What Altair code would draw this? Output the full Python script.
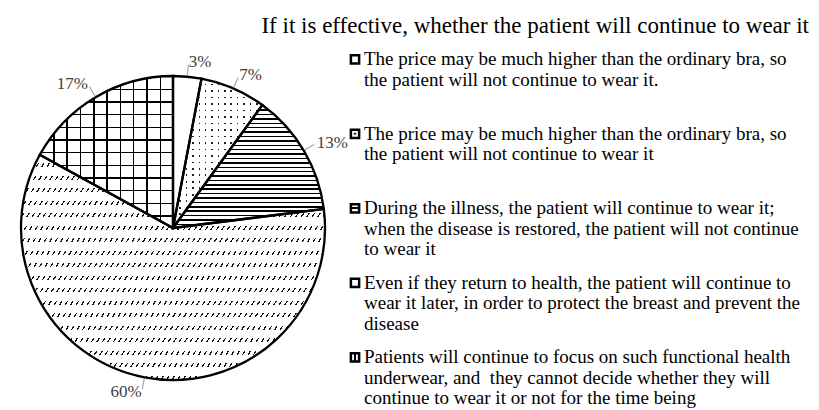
import math
import altair as alt
import pandas as pd

# ---------------- data ----------------
keys = ["a", "b", "c", "d", "e"]
values = [3, 7, 13, 60, 17]
legend_labels = [
    "The price may be much higher than the ordinary bra, so\nthe patient will not continue to wear it.",
    "The price may be much higher than the ordinary bra, so\nthe patient will not continue to wear it",
    "\u00a0During the illness, the patient will continue to wear it;\nwhen the disease is restored, the patient will not continue\nto wear it",
    "Even if they return to health, the patient will continue to\nwear it later, in order to protect the breast and prevent the\ndisease",
    "Patients will continue to focus on such functional health\nunderwear, and \u00a0they cannot decide whether they will\ncontinue to wear it or not for the time being",
]
title_text = "If it is effective, whether the patient will continue to wear it"

df = pd.DataFrame({"key": keys, "value": values, "legend": legend_labels,
                   "idx": list(range(len(keys)))})

# ---------------- styling ----------------
R = 152
FONT = "Liberation Serif"
CLEAR = "rgba(255,255,255,0)"


def slice_bbox(i):
    tot = sum(values)
    c0 = sum(values[:i]) / tot * 360
    c1 = sum(values[: i + 1]) / tot * 360
    angs = [c0, c1] + [q for q in (0, 90, 180, 270, 360) if c0 < q < c1]
    pts = [(0.0, 0.0)] + [(R * math.sin(math.radians(a)), -R * math.cos(math.radians(a))) for a in angs]
    xs = [p[0] for p in pts]
    ys = [p[1] for p in pts]
    return max(xs) - min(xs), max(ys) - min(ys)


def stripes(W, H, angle, spacing, width, ink, paper):
    if angle == 0:
        a, b = 0.0, 1.0
        n = H / spacing
    elif angle == 90:
        a, b = 1.0, 0.0
        n = W / spacing
    else:
        k = math.tan(math.radians(angle)) * W / H
        b = (k + 1) / (k * k + 1)
        a = k * b
        dtdx = a / (W * (a * a + b * b))
        n = 1 / (spacing * dtdx)
    n = max(1, int(round(n)))
    frac = width / spacing
    stops = []
    for i in range(n):
        s, e, f = i / n, (i + frac) / n, (i + 1) / n
        stops += [(s, ink), (e, ink), (e, paper), (f, paper)]
    return {"gradient": "linear", "x1": 0, "y1": 0, "x2": round(a, 4), "y2": round(b, 4),
            "stops": [{"offset": round(o, 5), "color": c} for o, c in stops]}


bb = {k: slice_bbox(i) for i, k in enumerate(keys)}
patterns = {
    "b": [stripes(*bb["b"], 90, 6.6, 1.6, "#222222", CLEAR),
          stripes(*bb["b"], 0, 6.6, 5.0, "white", CLEAR)],
    "c": [stripes(*bb["c"], 0, 4.4, 1.5, "black", CLEAR)],
    "d": [stripes(*bb["d"], 58, 5.5, 1.4, "#111111", CLEAR),
          stripes(*bb["d"], 0, 12.77, 8.6, "white", CLEAR)],
    "e": [stripes(*bb["e"], 90, 12.8, 1.4, "black", CLEAR),
          stripes(*bb["e"], 0, 12.8, 1.4, "black", CLEAR)],
}

theta_scale = alt.Scale(domain=[0, 100])

base = (
    alt.Chart(df)
    .transform_window(cum="sum(value)", sort=[alt.SortField("idx")])
    .transform_calculate(start="datum.cum - datum.value",
                         mid="datum.cum - datum.value / 2",
                         pct="datum.value + '%'")
)

th = alt.Theta("start:Q", scale=theta_scale)
th2 = alt.Theta2("cum:Q")

layers = [base.mark_arc(radius=R, fill="white").encode(theta=th, theta2=th2)]
for key, grads in patterns.items():
    for g in grads:
        layers.append(
            base.transform_filter(alt.datum.key == key)
            .mark_arc(radius=R, fill=g)
            .encode(theta=th, theta2=th2)
        )
layers.append(
    base.mark_arc(radius=R, filled=False, stroke="black", strokeWidth=2.3)
    .encode(theta=th, theta2=th2)
)
# leader lines
layers.append(
    base.transform_calculate(l0="datum.mid - 0.06", l1="datum.mid + 0.06")
    .mark_arc(radius=R + 12, radius2=R + 1, fill="#a6a6a6")
    .encode(theta=alt.Theta("l0:Q", scale=theta_scale), theta2="l1:Q")
)
# labels: right half aligned left, left half aligned right
for side, cond in (("left", "datum.mid <= 50"), ("right", "datum.mid > 50")):
    layers.append(
        base.transform_filter(cond)
        .mark_text(radius=R + 15, font=FONT, fontSize=17, color="#404040",
                   align=side, baseline="middle")
        .encode(theta=alt.Theta("mid:Q", scale=theta_scale), text="pct:N")
    )

pie = alt.layer(*layers).properties(width=304, height=356)

# ---------------- legend ----------------
BAND = 74.5
lscale = alt.Scale(domain=[0, len(keys)], range=[0, BAND * len(keys)])
lbase = alt.Chart(df).transform_calculate(sy=f"datum.idx + {9.3 / BAND}")

icon_fill = {
    "a": "white",
    "b": {"gradient": "radial", "x1": 0.5, "y1": 0.5, "r1": 0, "x2": 0.5, "y2": 0.5, "r2": 0.5,
          "stops": [{"offset": 0, "color": "black"}, {"offset": 0.3, "color": "black"},
                    {"offset": 0.3, "color": "white"}, {"offset": 1, "color": "white"}]},
    "c": {"gradient": "linear", "x1": 0, "y1": 0, "x2": 0, "y2": 1,
          "stops": [{"offset": 0, "color": "white"}, {"offset": 0.38, "color": "white"},
                    {"offset": 0.38, "color": "black"}, {"offset": 0.62, "color": "black"},
                    {"offset": 0.62, "color": "white"}, {"offset": 1, "color": "white"}]},
    "d": "white",
    "e": {"gradient": "linear", "x1": 0, "y1": 0, "x2": 1, "y2": 0,
          "stops": [{"offset": 0, "color": "white"}, {"offset": 0.38, "color": "white"},
                    {"offset": 0.38, "color": "black"}, {"offset": 0.62, "color": "black"},
                    {"offset": 0.62, "color": "white"}, {"offset": 1, "color": "white"}]},
}
llayers = []
for key, f in icon_fill.items():
    llayers.append(
        lbase.transform_filter(alt.datum.key == key)
        .mark_square(size=68, fill=f, stroke="black", strokeWidth=2.5, opacity=1)
        .encode(x=alt.value(10), y=alt.Y("sy:Q", scale=lscale, axis=None))
    )
llayers.append(
    lbase.mark_text(align="left", baseline="top", lineBreak="\n", lineHeight=20.7,
                    font=FONT, fontSize=19, color="black")
    .encode(x=alt.value(19), y=alt.Y("idx:Q", scale=lscale, axis=None), text="legend:N")
)
legend = alt.layer(*llayers).properties(width=464, height=350)

chart = (
    alt.hconcat(pie, legend, spacing=20, bounds="flush")
    .properties(
        title=alt.TitleParams(title_text, anchor="end", font=FONT, fontSize=23,
                              fontWeight="normal", color="black", offset=12),
        padding={"left": 8, "top": 7, "right": 0, "bottom": 0},
    )
    .configure(font=FONT)
    .configure_text(font=FONT)
    .configure_view(stroke=None)
)

chart.save("out.html", embed_options={"renderer": "svg", "actions": False})
